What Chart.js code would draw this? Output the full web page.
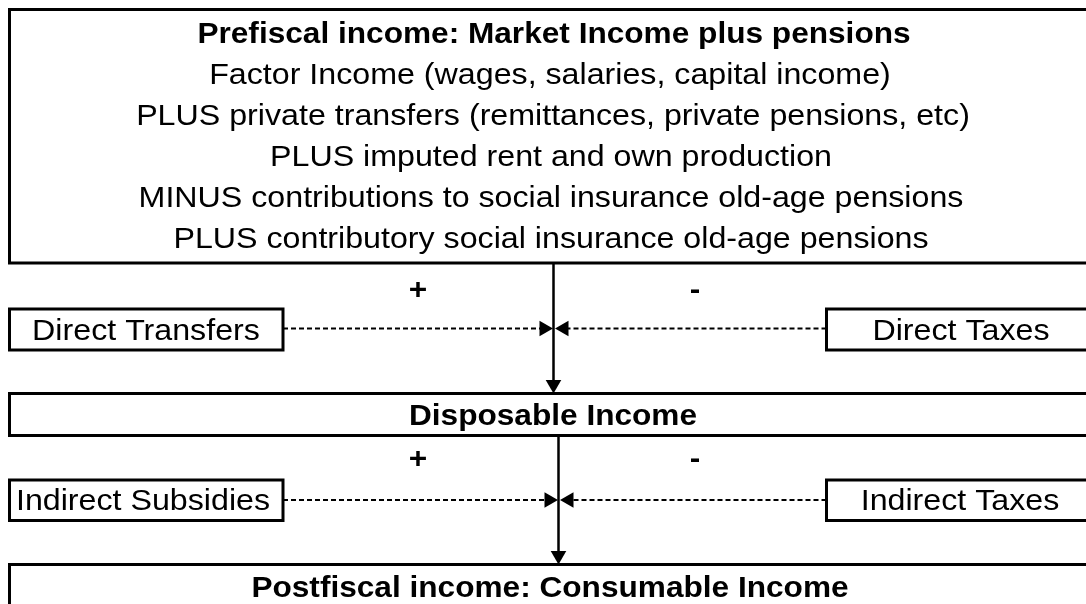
<!DOCTYPE html>
<html>
<head>
<meta charset="utf-8">
<script src="https://cdn.jsdelivr.net/npm/chart.js@4"></script>
<style>
  html, body { margin: 0; padding: 0; background: #ffffff; }
  #wrap { width: 1086px; height: 604px; position: relative; }
</style>
</head>
<body>
<div id="wrap"><canvas id="flow"></canvas></div>
<script>
// Diagram units match the picture: x 0..1086 left to right, y 0..604 top to bottom
const boxNames = ["prefiscal", "directTransfers", "directTaxes", "disposable", "indirectSubsidies", "indirectTaxes", "postfiscal"];
const boxLeft   = [9.5, 9.5, 826.5, 9.5, 9.5, 826.5, 9.5];
const boxRight  = [1092, 283, 1100, 1092, 283, 1100, 1092];
const boxTop    = [9.5, 309, 309, 393.5, 480, 480, 564.5];
const boxBottom = [263, 350, 350, 435.5, 520.5, 520.5, 620];

// solid flow arrows (vertical) and dashed feeder arrows (horizontal)
const flowFromX = [553.5, 558.5];
const flowFromY = [263, 435.5];
const flowToY   = [393.5, 564.5];

const feedFromX = [283, 826.5, 283, 826.5];
const feedToX   = [553, 555, 558, 560];
const feedY     = [328.5, 328.5, 500, 500];

// labels
const labelText = [
  "Prefiscal income: Market Income plus pensions",
  "Factor Income (wages, salaries, capital income)",
  "PLUS private transfers (remittances, private pensions, etc)",
  "PLUS imputed rent and own production",
  "MINUS contributions to social insurance old-age pensions",
  "PLUS contributory social insurance old-age pensions",
  "+", "-",
  "Direct Transfers", "Direct Taxes",
  "Disposable Income",
  "+", "-",
  "Indirect Subsidies", "Indirect Taxes",
  "Postfiscal income: Consumable Income"
];
const labelX    = [554, 550, 553, 551, 551, 551, 418, 695, 146, 961, 553, 418, 695, 143, 960, 550];
const labelY    = [43, 84, 125, 166, 207, 248, 299, 299, 340, 340, 425, 468, 468, 510, 510, 597];
const labelBold = [true, false, false, false, false, false, true, true, false, false, true, true, true, false, false, true];

const HEAD = 9; // arrowhead radius

const datasets = [];

// box outlines
boxNames.forEach((name, i) => {
  datasets.push({
    label: name,
    data: [
      { x: boxLeft[i], y: boxTop[i] },
      { x: boxRight[i], y: boxTop[i] },
      { x: boxRight[i], y: boxBottom[i] },
      { x: boxLeft[i], y: boxBottom[i] },
      { x: boxLeft[i], y: boxTop[i] }
    ],
    showLine: true,
    borderColor: "#000000",
    borderWidth: 3,
    borderCapStyle: "square",
    borderJoinStyle: "miter",
    pointRadius: 0,
    tension: 0
  });
});

// vertical solid arrows
const headPts = [];
const headRot = [];
flowFromX.forEach((x, i) => {
  datasets.push({
    label: "flow" + i,
    data: [{ x: x, y: flowFromY[i] }, { x: x, y: flowToY[i] - HEAD }],
    showLine: true,
    borderColor: "#000000",
    borderWidth: 2.5,
    pointRadius: 0
  });
  headPts.push({ x: x, y: flowToY[i] - HEAD });
  headRot.push(180);
});

// horizontal dashed arrows
feedFromX.forEach((x, i) => {
  const dir = feedToX[i] > x ? 1 : -1;
  datasets.push({
    label: "feed" + i,
    data: [{ x: x, y: feedY[i] }, { x: feedToX[i] - dir * HEAD, y: feedY[i] }],
    showLine: true,
    borderColor: "#000000",
    borderWidth: 2,
    borderDash: [5, 3],
    pointRadius: 0
  });
  headPts.push({ x: feedToX[i] - dir * HEAD, y: feedY[i] });
  headRot.push(dir > 0 ? 90 : 270);
});

// arrowheads
datasets.push({
  label: "heads",
  data: headPts,
  showLine: false,
  pointStyle: "triangle",
  pointRadius: HEAD,
  rotation: headRot,
  backgroundColor: "#000000",
  borderColor: "#000000",
  borderWidth: 0
});

// text drawn on the same scales
const textPlugin = {
  id: "flowText",
  afterDatasetsDraw(chart) {
    const ctx = chart.ctx;
    const sx = chart.scales.x;
    const sy = chart.scales.y;
    ctx.save();
    ctx.fillStyle = "#000000";
    ctx.textAlign = "center";
    ctx.textBaseline = "alphabetic";
    labelText.forEach((t, i) => {
      ctx.save();
      ctx.translate(sx.getPixelForValue(labelX[i]), sy.getPixelForValue(labelY[i]));
      ctx.scale(labelBold[i] ? 1.09 : 1.11, 1);
      ctx.font = (labelBold[i] ? "bold " : "") + "29px 'Liberation Sans', Arial, sans-serif";
      ctx.fillText(t, 0, 0);
      ctx.restore();
    });
    ctx.restore();
  }
};

new Chart(document.getElementById("flow"), {
  type: "scatter",
  data: { datasets: datasets },
  options: {
    responsive: true,
    maintainAspectRatio: false,
    animation: false,
    layout: { padding: 0, autoPadding: false },
    plugins: {
      legend: { display: false },
      tooltip: { enabled: false }
    },
    scales: {
      x: { type: "linear", min: 0, max: 1086, display: false },
      y: { type: "linear", min: 0, max: 604, reverse: true, display: false }
    }
  },
  plugins: [textPlugin]
});
</script>
</body>
</html>
